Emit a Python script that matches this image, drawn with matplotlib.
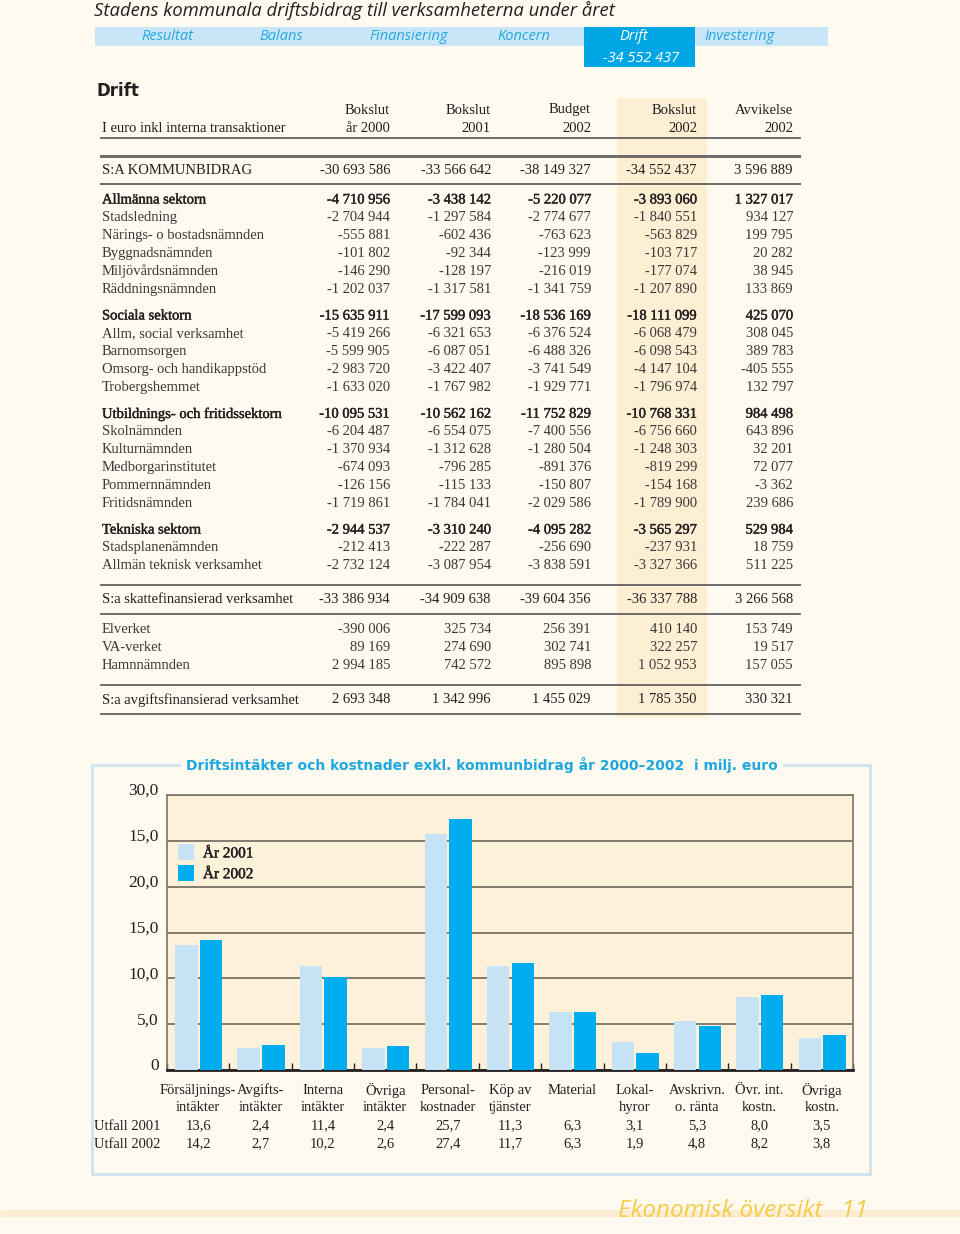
import matplotlib.pyplot as plt
from matplotlib.patches import Rectangle
import matplotlib.patheffects as pe
import numpy as np

# Table: Drift (euro, incl. internal transactions)
row_labels = ['S:A KOMMUNBIDRAG',
              'Allmänna sektorn', 'Stadsledning', 'Närings- o bostadsnämnden',
              'Byggnadsnämnden', 'Miljövårdsnämnden', 'Räddningsnämnden',
              'Sociala sektorn', 'Allm, social verksamhet', 'Barnomsorgen',
              'Omsorg- och handikappstöd', 'Trobergshemmet',
              'Utbildnings- och fritidssektorn', 'Skolnämnden', 'Kulturnämnden',
              'Medborgarinstitutet', 'Pommernnämnden', 'Fritidsnämnden',
              'Tekniska sektorn', 'Stadsplanenämnden', 'Allmän teknisk verksamhet',
              'S:a skattefinansierad verksamhet',
              'Elverket', 'VA-verket', 'Hamnnämnden',
              'S:a avgiftsfinansierad verksamhet']
row_kind = ['total',
            'sector', 'item', 'item', 'item', 'item', 'item',
            'sector', 'item', 'item', 'item', 'item',
            'sector', 'item', 'item', 'item', 'item', 'item',
            'sector', 'item', 'item',
            'total',
            'first', 'item', 'item',
            'total']
bokslut_2000 = [-30693586, -4710956, -2704944, -555881, -101802, -146290, -1202037,
                -15635911, -5419266, -5599905, -2983720, -1633020,
                -10095531, -6204487, -1370934, -674093, -126156, -1719861,
                -2944537, -212413, -2732124, -33386934,
                -390006, 89169, 2994185, 2693348]
bokslut_2001 = [-33566642, -3438142, -1297584, -602436, -92344, -128197, -1317581,
                -17599093, -6321653, -6087051, -3422407, -1767982,
                -10562162, -6554075, -1312628, -796285, -115133, -1784041,
                -3310240, -222287, -3087954, -34909638,
                325734, 274690, 742572, 1342996]
budget_2002 = [-38149327, -5220077, -2774677, -763623, -123999, -216019, -1341759,
               -18536169, -6376524, -6488326, -3741549, -1929771,
               -11752829, -7400556, -1280504, -891376, -150807, -2029586,
               -4095282, -256690, -3838591, -39604356,
               256391, 302741, 895898, 1455029]
bokslut_2002 = [-34552437, -3893060, -1840551, -563829, -103717, -177074, -1207890,
                -18111099, -6068479, -6098543, -4147104, -1796974,
                -10768331, -6756660, -1248303, -819299, -154168, -1789900,
                -3565297, -237931, -3327366, -36337788,
                410140, 322257, 1052953, 1785350]
avvikelse_2002 = [3596889, 1327017, 934127, 199795, 20282, 38945, 133869,
                  425070, 308045, 389783, -405555, 132797,
                  984498, 643896, 32201, 72077, -3362, 239686,
                  529984, 18759, 511225, 3266568,
                  153749, 19517, 157055, 330321]
col_head1 = ['Bokslut', 'Bokslut', 'Budget', 'Bokslut', 'Avvikelse']
col_head2 = ['år 2000', '2001', '2002', '2002', '2002']

nav_items = ['Resultat', 'Balans', 'Finansiering', 'Koncern', 'Drift', 'Investering']

# Chart: Driftsintäkter och kostnader (milj. euro)
categories = ['Försäljnings-\nintäkter', 'Avgifts-\nintäkter', 'Interna\nintäkter',
              'Övriga\nintäkter', 'Personal-\nkostnader', 'Köp av\ntjänster',
              'Material\n', 'Lokal-\nhyror', 'Avskrivn.\no. ränta',
              'Övr. int.\nkostn.', 'Övriga\nkostn.']
utfall_2001 = [13.6, 2.4, 11.4, 2.4, 25.7, 11.3, 6.3, 3.1, 5.3, 8.0, 3.5]
utfall_2002 = [14.2, 2.7, 10.2, 2.6, 27.4, 11.7, 6.3, 1.9, 4.8, 8.2, 3.8]
ytick_labels = ['0', '5,0', '10,0', '15,0', '20,0', '15,0', '30,0']

PAGE = '#fffaf0'
INK = '#231f20'
LIGHT = '#c6e3f5'
BLUE = '#00aeef'
SERIF = 'Liberation Serif'
FS = 10.5
semibold = [pe.withStroke(linewidth=0.3, foreground=INK)]


def fmt(v):
    return f'{v:,}'.replace(',', ' ')


def fmt1(v):
    return f'{v:.1f}'.replace('.', ',')


fig = plt.figure(figsize=(9.6, 12.34), dpi=100, facecolor=PAGE)
page = fig.add_axes([0, 0, 1, 1])
page.set_xlim(0, 960)
page.set_ylim(1234, 0)
page.axis('off')

# header title + navigation bar
page.text(94, 10, 'Stadens kommunala driftsbidrag till verksamheterna under året',
          family='Open Sans', style='italic', fontsize=13.3, color=INK, va='center')
page.add_patch(Rectangle((95, 27), 733, 19, color='#c8e6f7', lw=0))
page.add_patch(Rectangle((584, 27), 111, 40, color='#00a6e4', lw=0))
nav_x = [167, 281, 409, 524, 634, 704]
for name, x in zip(nav_items, nav_x):
    active = name == 'Drift'
    page.text(x, 36.5, name, family='Open Sans', style='italic', fontsize=10.5,
              color='white' if active else '#27a8e0',
              ha='left' if name == 'Investering' else 'center', va='center')
page.text(641, 58, fmt(bokslut_2002[0]), family='Open Sans', style='italic',
          fontsize=10.5, color='white', ha='center', va='center')

page.text(97, 91, 'Drift', family='DejaVu Sans', weight='bold', fontsize=12,
          color=INK, va='center')

# highlighted column band
page.add_patch(Rectangle((617, 98), 90, 620, color='#fdebc7', alpha=0.7, lw=0))

col_x = [390, 491, 591, 697, 793]
for x, h1, h2 in zip(col_x, col_head1, col_head2):
    page.text(x, 110, h1, family=SERIF, fontsize=FS, color=INK, ha='right', va='center')
    page.text(x, 128, h2, family=SERIF, fontsize=FS, color=INK, ha='right', va='center')
page.text(102, 128, 'I euro inkl interna transaktioner', family=SERIF, fontsize=FS,
          color=INK, va='center')

# rows
gap = {'total': 34, 'sector': 26.5, 'first': 30, 'item': 17.9}
line_y = [138, 157]
y = 170
cols = [bokslut_2000, bokslut_2001, budget_2002, bokslut_2002, avvikelse_2002]
for i, (label, kind) in enumerate(zip(row_labels, row_kind)):
    if i > 0:
        step = gap[kind]
        if row_kind[i - 1] == 'total':
            step = 30
        y += step
    if kind == 'total':
        line_y += [y - 14.5, y + 14]
    effects = semibold if kind == 'sector' else None
    color = INK if kind in ('sector', 'total') else '#3b3838'
    page.text(102, y, label, family=SERIF, fontsize=FS, color=color,
              va='center', path_effects=effects)
    for x, col in zip(col_x, cols):
        page.text(x, y, fmt(col[i]), family=SERIF, fontsize=FS, color=color,
                  ha='right', va='center', path_effects=effects)
for ly in sorted(set(round(v) for v in line_y)):
    page.plot([100, 801], [ly, ly], color='#6e6b68', lw=1.4, solid_capstyle='butt')

# chart frame + title
page.add_patch(Rectangle((92, 765), 778, 409, fill=False, ec='#cfe3ee', lw=2))
page.text(482, 765, 'Driftsintäkter och kostnader exkl. kommunbidrag år 2000–2002  i milj. euro',
          family='DejaVu Sans', weight='bold', fontsize=10, color='#1ea8e0',
          ha='center', va='center',
          bbox=dict(facecolor=PAGE, edgecolor='none', pad=4))

# bar chart
ax = fig.add_axes([167 / 960, 1 - 1070 / 1234, 686 / 960, 275 / 1234])
ax.set_facecolor('#fdf2d9')
x = np.arange(len(categories))
ax.bar(x - 0.19, utfall_2001, width=0.36, color=LIGHT, label='År 2001', zorder=3)
ax.bar(x + 0.205, utfall_2002, width=0.36, color=BLUE, label='År 2002', zorder=3)
ax.set_xlim(-0.5, len(categories) - 0.5)
ax.set_ylim(0, 30)
ax.set_yticks(np.arange(0, 31, 5))
ax.set_yticklabels(ytick_labels, family=SERIF, fontsize=12.5, color=INK)
ax.tick_params(axis='y', length=0, pad=6)
for t in ax.get_yticklabels():
    t.set_verticalalignment('baseline')
ax.set_xticks(np.arange(-0.5, len(categories), 1))
ax.set_xticklabels([])
ax.tick_params(axis='x', direction='in', length=5, width=1, color=INK)
ax.grid(axis='y', color='#7b7468', lw=1.3, zorder=1)
for s in ('top', 'right', 'left'):
    ax.spines[s].set_color('#7b7468')
    ax.spines[s].set_linewidth(1.2)
ax.spines['bottom'].set_color(INK)
ax.spines['bottom'].set_linewidth(2)

leg = ax.legend(loc='upper left', bbox_to_anchor=(0.0, 0.86), frameon=False,
                handlelength=1.05, handleheight=1.25, handletextpad=0.6,
                labelspacing=0.3, borderaxespad=0.3,
                prop={'family': SERIF, 'size': 11})
for t in leg.get_texts():
    t.set_color(INK)
    t.set_path_effects(semibold)

# category labels + value table under chart
xt = ax.get_xaxis_transform()
for i, cat in enumerate(categories):
    l1, l2 = cat.split('\n')
    for yy, s in ((-0.073, l1), (-0.138, l2), (-0.204, fmt1(utfall_2001[i])),
                  (-0.269, fmt1(utfall_2002[i]))):
        ax.text(i, yy, s, transform=xt, family=SERIF, fontsize=FS, color=INK,
                ha='center', va='center', clip_on=False)
page.text(94, 1126, 'Utfall 2001', family=SERIF, fontsize=FS, color=INK, va='center')
page.text(94, 1144, 'Utfall 2002', family=SERIF, fontsize=FS, color=INK, va='center')

# footer
page.plot([0, 960], [1213, 1213], color='#fbe3bd', lw=5, alpha=0.6, solid_capstyle='butt')
page.text(868, 1211, 'Ekonomisk översikt   11', family='Open Sans', style='italic',
          fontsize=17.5, color='#f6cb4a', ha='right', va='center')

fig.savefig('out.png', dpi=100, facecolor=PAGE)
